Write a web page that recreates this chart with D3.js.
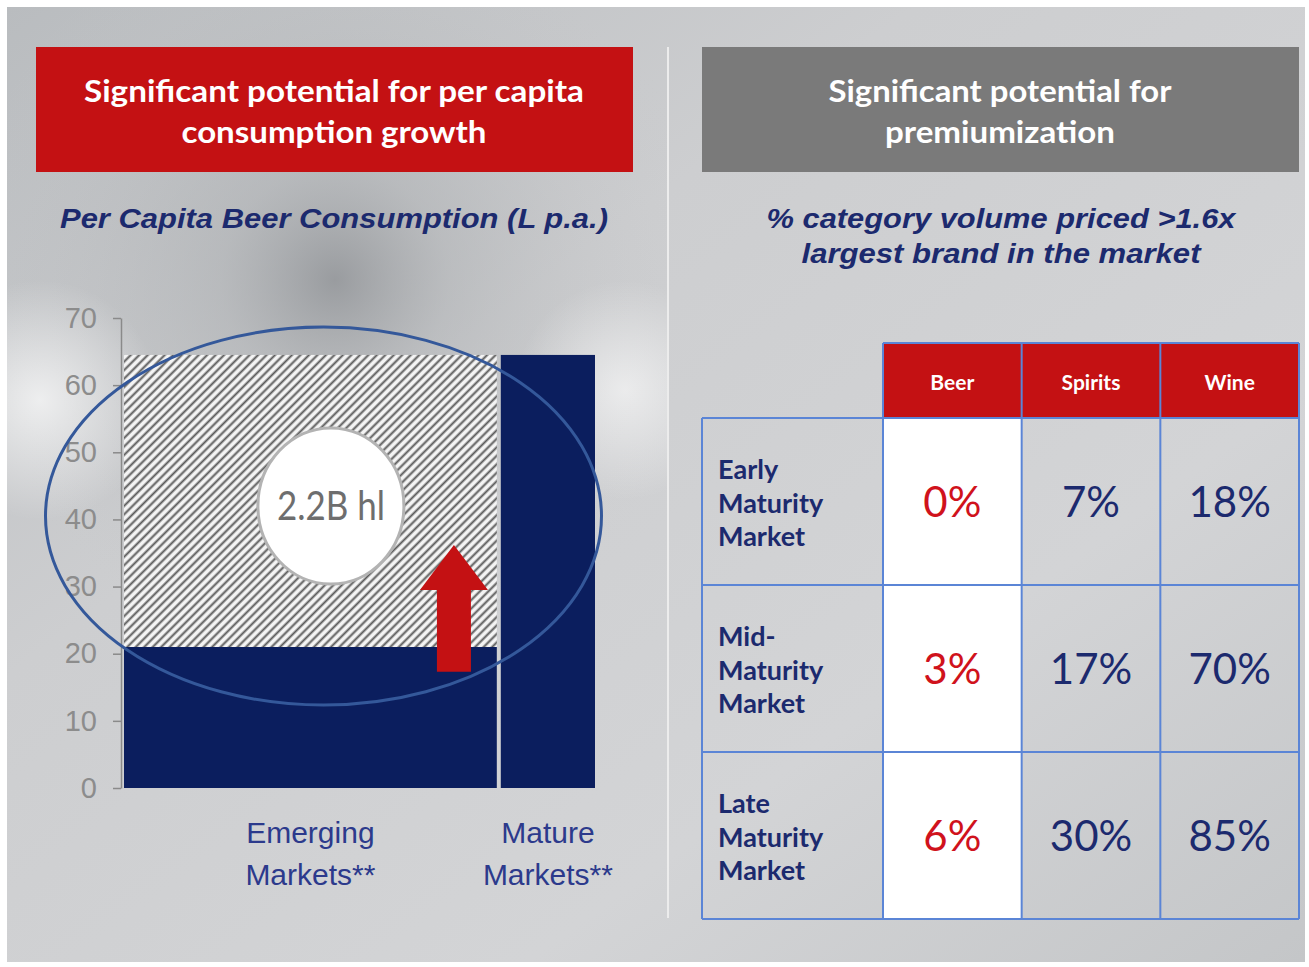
<!DOCTYPE html>
<head>
  <meta charset="utf-8">
  <script src="https://d3js.org/d3.v7.min.js"></script>
  <style>
    body { margin:0; background:#fff; }
  </style>
</head>
<body>
<script>
// ---- data ----
var markets = ["Emerging Markets**", "Mature Markets**"];
var marketWeight = [4, 1];          // relative bar widths
var perCapita = [21, 64.5];         // L p.a.
var potential = [64.5, null];       // headroom (hatched) for emerging
var yTicks = [0, 10, 20, 30, 40, 50, 60, 70];
var bubbleLabel = "2.2B hl";

var categories = ["Beer", "Spirits", "Wine"];
var maturity = ["Early Maturity Market", "Mid- Maturity Market", "Late Maturity Market"];
var beerPct = [0, 3, 6];
var spiritsPct = [7, 17, 30];
var winePct = [18, 70, 85];

var W = 1309, H = 967;
var svg = d3.select("body").append("svg").attr("width", W).attr("height", H);
var defs = svg.append("defs");

// brushed metal background
var lg = defs.append("linearGradient").attr("id", "bg").attr("x1", 0).attr("y1", 0).attr("x2", 1).attr("y2", 1);
lg.append("stop").attr("offset", 0).attr("stop-color", "#b9bcbf");
lg.append("stop").attr("offset", 0.35).attr("stop-color", "#cdced0");
lg.append("stop").attr("offset", 0.7).attr("stop-color", "#d3d4d6");
lg.append("stop").attr("offset", 1).attr("stop-color", "#c4c6c8");
var rg = defs.append("radialGradient").attr("id", "spot").attr("gradientUnits", "userSpaceOnUse")
  .attr("cx", 335).attr("cy", 280).attr("r", 380);
rg.append("stop").attr("offset", 0).attr("stop-color", "#85888c").attr("stop-opacity", 0.7);
rg.append("stop").attr("offset", 0.3).attr("stop-color", "#a3a6a9").attr("stop-opacity", 0.4);
rg.append("stop").attr("offset", 1).attr("stop-color", "#c8c9cb").attr("stop-opacity", 0);
var hl = defs.append("radialGradient").attr("id", "shine").attr("gradientUnits", "userSpaceOnUse")
  .attr("cx", 40).attr("cy", 400).attr("r", 120);
hl.append("stop").attr("offset", 0).attr("stop-color", "#ffffff").attr("stop-opacity", 0.7);
hl.append("stop").attr("offset", 1).attr("stop-color", "#ffffff").attr("stop-opacity", 0);
var hl2 = defs.append("radialGradient").attr("id", "shine2").attr("gradientUnits", "userSpaceOnUse")
  .attr("cx", 625).attr("cy", 390).attr("r", 110);
hl2.append("stop").attr("offset", 0).attr("stop-color", "#ffffff").attr("stop-opacity", 0.6);
hl2.append("stop").attr("offset", 1).attr("stop-color", "#ffffff").attr("stop-opacity", 0);

svg.append("rect").attr("x", 7).attr("y", 7).attr("width", 1298).attr("height", 955).attr("fill", "url(#bg)");
svg.append("rect").attr("x", 7).attr("y", 7).attr("width", 660).attr("height", 955).attr("fill", "url(#spot)");
svg.append("rect").attr("x", 7).attr("y", 7).attr("width", 660).attr("height", 955).attr("fill", "url(#shine)");
svg.append("rect").attr("x", 7).attr("y", 7).attr("width", 660).attr("height", 955).attr("fill", "url(#shine2)");

// divider
svg.append("line").attr("x1", 668).attr("x2", 668).attr("y1", 47).attr("y2", 918)
  .attr("stroke", "#ececec").attr("stroke-width", 2);

// hatch pattern
var pat = defs.append("pattern").attr("id", "hatch").attr("patternUnits", "userSpaceOnUse")
  .attr("width", 6).attr("height", 6).attr("patternTransform", "rotate(45)");
pat.append("rect").attr("width", 6).attr("height", 6).attr("fill", "#f4f4f4");
pat.append("line").attr("x1", 1.5).attr("x2", 1.5).attr("y1", 0).attr("y2", 6)
  .attr("stroke", "#5a5a5a").attr("stroke-width", 2);

// ---- title boxes ----
function titleBox(x, fill, lines, lens) {
  svg.append("rect").attr("x", x).attr("y", 47).attr("width", 597).attr("height", 125).attr("fill", fill);
  lines.forEach(function(t, i) {
    svg.append("text").attr("x", x + 298).attr("y", 102 + i * 41)
      .attr("text-anchor", "middle").attr("fill", "#fff")
      .attr("font-family", "Lato, 'Open Sans', sans-serif").attr("font-weight", 700)
      .attr("font-size", 31).attr("textLength", lens[i]).attr("lengthAdjust", "spacingAndGlyphs")
      .text(t);
  });
}
titleBox(36, "#c41113", ["Significant potential for per capita", "consumption growth"], [500, 305]);
titleBox(702, "#7a7a7a", ["Significant potential for", "premiumization"], [343, 230]);

function subTitle(cx, lines, lens) {
  lines.forEach(function(t, i) {
    svg.append("text").attr("x", cx).attr("y", 228 + i * 35)
      .attr("text-anchor", "middle").attr("fill", "#1c2a6e")
      .attr("font-family", "'Liberation Sans', Arial, sans-serif").attr("font-weight", 700)
      .attr("font-style", "italic").attr("font-size", 28)
      .attr("textLength", lens[i]).attr("lengthAdjust", "spacingAndGlyphs")
      .text(t);
  });
}
subTitle(334, ["Per Capita Beer Consumption (L p.a.)"], [548]);
subTitle(1001, ["% category volume priced >1.6x", "largest brand in the market"], [469, 399]);

// ---- bar chart ----
var y = d3.scaleLinear().domain([0, 70]).range([788, 318]);
var cum = [0];
marketWeight.forEach(function(w, i) { cum.push(cum[i] + w); });
var x = d3.scaleLinear().domain([0, cum[cum.length - 1]]).range([124, 595]);
var gap = 4;

var yAxis = svg.append("g").attr("transform", "translate(121,0)")
  .call(d3.axisLeft(y).tickValues(yTicks).tickSize(8).tickPadding(16).tickSizeOuter(0));
yAxis.select(".domain").attr("stroke", "#8a8a8a").attr("stroke-width", 1.5);
yAxis.selectAll(".tick line").attr("stroke", "#8a8a8a").attr("stroke-width", 1.5);
yAxis.selectAll(".tick text").attr("fill", "#8c8c8c").attr("font-size", 29)
  .attr("font-family", "'Liberation Sans', Arial, sans-serif");

var bars = markets.map(function(m, i) {
  return { name: m, x0: x(cum[i]), x1: x(cum[i + 1]) - (i < markets.length - 1 ? gap : 0),
           v: perCapita[i], p: potential[i] };
});

// potential (hatched)
svg.selectAll("rect.pot").data(bars.filter(function(d) { return d.p != null; }))
  .enter().append("rect").attr("class", "pot")
  .attr("x", function(d) { return d.x0; }).attr("width", function(d) { return d.x1 - d.x0; })
  .attr("y", function(d) { return y(d.p); }).attr("height", function(d) { return y(d.v) - y(d.p); })
  .attr("fill", "url(#hatch)");

svg.selectAll("rect.bar").data(bars).enter().append("rect").attr("class", "bar")
  .attr("x", function(d) { return d.x0; }).attr("width", function(d) { return d.x1 - d.x0; })
  .attr("y", function(d) { return y(d.v); }).attr("height", function(d) { return y(0) - y(d.v); })
  .attr("fill", "#0b1e5e");

// bubble
var em = bars[0];
svg.append("ellipse").attr("cx", em.x0 + (em.x1 - em.x0) * 0.555).attr("cy", y(42))
  .attr("rx", 73).attr("ry", 78).attr("fill", "#fff").attr("stroke", "#b3b3b3").attr("stroke-width", 3);
svg.append("text").attr("x", em.x0 + (em.x1 - em.x0) * 0.555).attr("y", y(42) + 14)
  .attr("text-anchor", "middle").attr("fill", "#6e6e6e")
  .attr("font-family", "Lato, 'Open Sans', sans-serif").attr("font-size", 40)
  .attr("textLength", 108).attr("lengthAdjust", "spacingAndGlyphs")
  .text(bubbleLabel);

// red arrow
var ax = em.x0 + (em.x1 - em.x0) * 0.885, aTop = y(36.2), aBase = y(29.5), aBot = y(17.3);
svg.append("path").attr("fill", "#c41113")
  .attr("d", d3.line()([[ax - 17, aBot], [ax - 17, aBase], [ax - 34, aBase], [ax, aTop],
                        [ax + 34, aBase], [ax + 17, aBase], [ax + 17, aBot]]) + "Z");

// highlight ellipse
svg.append("ellipse").attr("cx", 323.5).attr("cy", y(40.5)).attr("rx", 278).attr("ry", 189)
  .attr("fill", "none").attr("stroke", "#34589a").attr("stroke-width", 3);

// x labels
bars.forEach(function(d) {
  var parts = d.name.split(" ");
  parts.forEach(function(t, i) {
    svg.append("text").attr("x", (d.x0 + d.x1) / 2).attr("y", 843 + i * 42)
      .attr("text-anchor", "middle").attr("fill", "#2c3a8c")
      .attr("font-family", "'Liberation Sans', Arial, sans-serif").attr("font-size", 30)
      .text(t);
  });
});

// ---- table ----
var colX = d3.scaleBand().domain(categories).range([883, 1299]);
var rowY = d3.scaleBand().domain(maturity).range([418, 919]);
var tbl = svg.append("g");
var blue = "#5b85d6";

// header
tbl.selectAll("rect.hd").data(categories).enter().append("rect").attr("class", "hd")
  .attr("x", function(d) { return colX(d); }).attr("y", 343)
  .attr("width", colX.bandwidth()).attr("height", 418 - 343).attr("fill", "#c41113");
tbl.selectAll("text.hd").data(categories).enter().append("text").attr("class", "hd")
  .attr("x", function(d) { return colX(d) + colX.bandwidth() / 2; }).attr("y", 390)
  .attr("text-anchor", "middle").attr("fill", "#fff")
  .attr("font-family", "Lato, 'Open Sans', sans-serif").attr("font-weight", 700).attr("font-size", 21)
  .text(function(d) { return d; });

// beer column white
tbl.append("rect").attr("x", colX("Beer")).attr("y", 418).attr("width", colX.bandwidth())
  .attr("height", 919 - 418).attr("fill", "#ffffff");

// cells
var cells = [];
maturity.forEach(function(r, i) {
  cells.push({ r: r, c: "Beer", v: beerPct[i] });
  cells.push({ r: r, c: "Spirits", v: spiritsPct[i] });
  cells.push({ r: r, c: "Wine", v: winePct[i] });
});
tbl.selectAll("text.val").data(cells).enter().append("text").attr("class", "val")
  .attr("x", function(d) { return colX(d.c) + colX.bandwidth() / 2; })
  .attr("y", function(d) { return rowY(d.r) + rowY.bandwidth() / 2 + 15; })
  .attr("text-anchor", "middle")
  .attr("fill", function(d) { return d.c == "Beer" ? "#d0121c" : "#1c2a6e"; })
  .attr("font-family", "Lato, 'Open Sans', sans-serif").attr("font-size", 42)
  .text(function(d) { return d.v + "%"; });

// row labels
maturity.forEach(function(r) {
  var parts = r.split(" ");
  parts.forEach(function(t, i) {
    tbl.append("text").attr("x", 718).attr("y", rowY(r) + 61 + i * 33.5)
      .attr("fill", "#1c2a6e").attr("font-family", "Lato, 'Open Sans', sans-serif")
      .attr("font-weight", 700).attr("font-size", 27).text(t);
  });
});

// grid lines
var vx = [702].concat(categories.map(function(c) { return colX(c); })).concat([1299]);
vx.forEach(function(xx, i) {
  tbl.append("line").attr("x1", xx).attr("x2", xx).attr("y1", i == 0 ? 418 : 343).attr("y2", 919)
    .attr("stroke", blue).attr("stroke-width", 2);
});
var hy = [418].concat(maturity.slice(1).map(function(r) { return rowY(r); })).concat([919]);
hy.forEach(function(yy) {
  tbl.append("line").attr("x1", 702).attr("x2", 1299).attr("y1", yy).attr("y2", yy)
    .attr("stroke", blue).attr("stroke-width", 2);
});
tbl.append("line").attr("x1", 883).attr("x2", 1299).attr("y1", 343).attr("y2", 343)
  .attr("stroke", blue).attr("stroke-width", 2);
</script>
</body>
</html>
